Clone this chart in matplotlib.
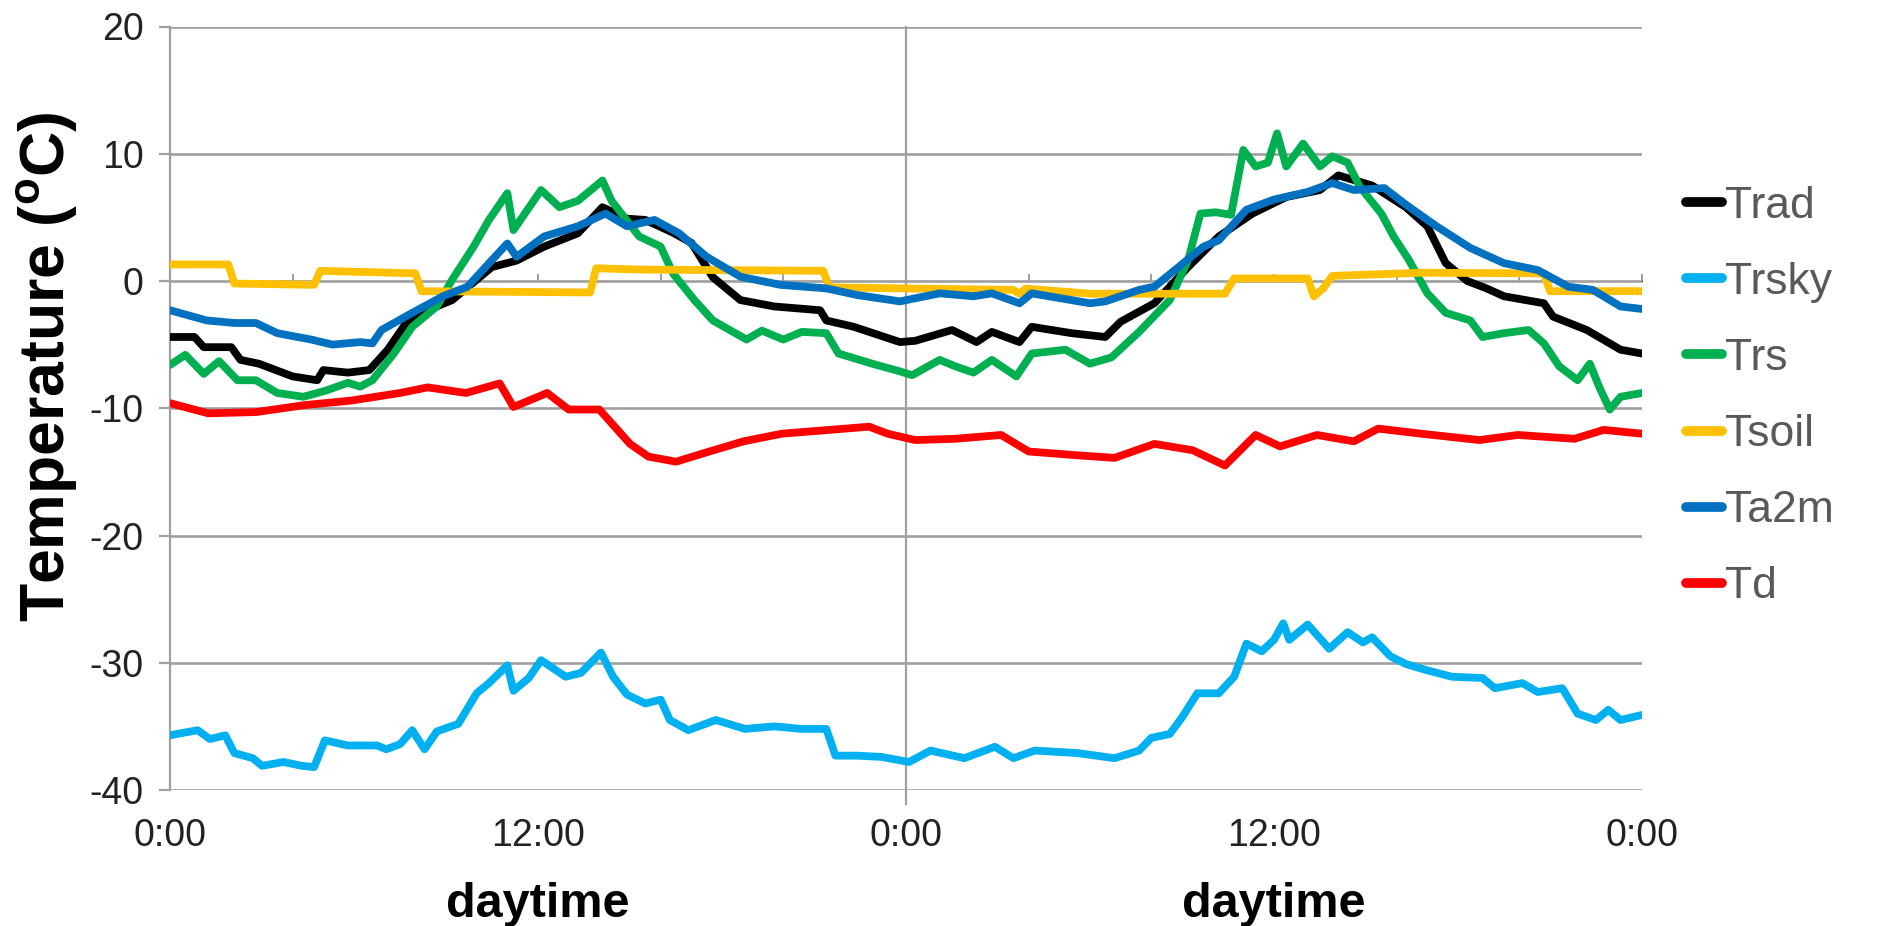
import matplotlib
matplotlib.use("Agg")
import matplotlib.pyplot as plt

plt.rcParams['font.family'] = ['Liberation Sans', 'DejaVu Sans']

# ---------------- data (hours since start, temperature in degC) ----------------
trad_h = [0, 0.8, 1.1, 2.0, 2.3, 2.9, 4.0, 4.8, 5.0, 5.8, 6.5, 7.1, 7.7, 8.4, 9.2, 10.0,
          10.5, 11.3, 12.2, 13.3, 14.1, 14.9, 15.5, 16.4, 17.0, 17.7, 18.6, 19.7, 21.2,
          21.4, 22.3, 23.8, 24.3, 25.5, 26.3, 26.8, 27.7, 28.1, 29.4, 30.5, 31.0, 32.1,
          33.2, 34.2, 35.3, 36.4, 37.5, 38.1, 39.2, 40.3, 41.0, 41.6, 42.3, 42.9, 43.5,
          44.8, 45.1, 46.2, 47.3, 48.0]
trad_v = [-4.4, -4.4, -5.2, -5.2, -6.2, -6.5, -7.5, -7.8, -7.0, -7.2, -7.0, -5.4, -3.3,
          -2.3, -1.5, 0.1, 1.1, 1.6, 2.7, 3.75, 5.8, 4.9, 4.8, 3.8, 3.0, 0.3, -1.5, -2.0,
          -2.3, -3.1, -3.6, -4.8, -4.7, -3.85, -4.8, -4.0, -4.8, -3.6, -4.1, -4.4, -3.2,
          -1.75, 1.1, 3.5, 5.3, 6.6, 7.15, 8.3, 7.5, 5.8, 4.3, 1.4, 0.0, -0.55, -1.2,
          -1.75, -2.8, -3.85, -5.4, -5.7]

trsky_h = [0, 0.9, 1.3, 1.8, 2.1, 2.7, 3.0, 3.7, 4.3, 4.7, 5.05, 5.8, 6.75, 7.05, 7.5,
           7.9, 8.3, 8.7, 9.4, 10.0, 10.4, 11.0, 11.2, 11.7, 12.1, 12.9, 13.4, 14.05,
           14.45, 14.9, 15.5, 16.0, 16.3, 16.9, 17.8, 18.75, 19.7, 20.6, 21.4, 21.7,
           22.4, 23.2, 24.1, 24.8, 25.9, 26.9, 27.5, 28.2, 29.6, 30.8, 31.6, 32.0, 32.6,
           33.0, 33.5, 34.2, 34.7, 35.1, 35.6, 36.0, 36.3, 36.5, 37.1, 37.8, 38.4, 38.9,
           39.2, 39.8, 40.3, 41.0, 41.8, 42.8, 43.2, 44.1, 44.6, 45.4, 45.9, 46.5, 46.9,
           47.3, 48.0]
trsky_v = [-35.7, -35.3, -36.0, -35.7, -37.1, -37.5, -38.1, -37.8, -38.1, -38.2, -36.1,
           -36.5, -36.5, -36.8, -36.4, -35.3, -36.8, -35.4, -34.8, -32.4, -31.6, -30.2,
           -32.2, -31.2, -29.8, -31.1, -30.8, -29.2, -31.1, -32.5, -33.2, -32.9, -34.5,
           -35.3, -34.5, -35.2, -35.0, -35.2, -35.2, -37.3, -37.3, -37.4, -37.8, -36.9,
           -37.5, -36.6, -37.5, -36.9, -37.1, -37.5, -36.9, -35.9, -35.6, -34.3, -32.4,
           -32.4, -31.1, -28.5, -29.1, -28.2, -26.9, -28.2, -27.0, -28.9, -27.6, -28.4,
           -28.0, -29.5, -30.1, -30.6, -31.1, -31.2, -32.0, -31.6, -32.3, -32.0, -34.0,
           -34.5, -33.7, -34.5, -34.1]

trs_h = [0, 0.5, 1.1, 1.6, 2.2, 2.8, 3.5, 4.35, 5.1, 5.8, 6.2, 6.6, 7.3, 7.9, 8.7, 9.2,
         9.9, 10.4, 11.0, 11.2, 11.5, 12.1, 12.7, 13.3, 14.1, 14.4, 15.3, 16.0, 16.4,
         17.1, 17.7, 18.8, 19.3, 20.0, 20.6, 21.4, 21.8, 22.9, 23.8, 24.2, 25.1, 25.6,
         26.2, 26.8, 27.6, 28.1, 29.2, 30.0, 30.7, 31.6, 32.6, 33.2, 33.6, 34.1, 34.6,
         35.0, 35.4, 35.8, 36.1, 36.4, 36.95, 37.5, 37.9, 38.4, 38.8, 39.5, 39.9, 40.4,
         41.0, 41.6, 42.4, 42.8, 43.5, 44.3, 44.8, 45.3, 45.9, 46.3, 46.6, 46.95, 47.3,
         48.0]
trs_v = [-6.6, -5.8, -7.3, -6.3, -7.8, -7.8, -8.8, -9.1, -8.6, -8.0, -8.3, -7.8, -5.7,
         -3.6, -2.0, 0.1, 2.7, 4.8, 6.9, 4.0, 5.05, 7.15, 5.8, 6.3, 7.9, 6.3, 3.5, 2.7,
         0.6, -1.5, -3.1, -4.6, -3.9, -4.6, -4.0, -4.1, -5.7, -6.5, -7.1, -7.4, -6.2,
         -6.7, -7.2, -6.2, -7.5, -5.7, -5.4, -6.5, -6.0, -4.0, -1.5, 1.65, 5.3, 5.4, 5.2,
         10.3, 9.0, 9.3, 11.6, 9.0, 10.8, 9.0, 9.8, 9.3, 7.4, 5.3, 3.5, 1.65, -0.97,
         -2.5, -3.1, -4.4, -4.1, -3.85, -4.9, -6.7, -7.8, -6.5, -8.3, -10.1, -9.1, -8.8]

tsoil_h = [0, 1.9, 2.1, 4.7, 4.9, 8.0, 8.2, 13.7, 13.9, 15.3, 21.3, 21.5, 27.5, 27.7,
           27.9, 30.0, 34.4, 34.7, 37.1, 37.3, 37.6, 37.9, 40.8, 44.8, 45.0, 48.0]
tsoil_v = [1.3, 1.3, -0.2, -0.3, 0.8, 0.6, -0.8, -0.9, 1.0, 0.9, 0.8, -0.5, -0.7, -1.0,
           -0.6, -1.0, -1.0, 0.2, 0.2, -1.2, -0.6, 0.4, 0.65, 0.6, -0.8, -0.8]

ta2m_h = [0, 1.2, 2.1, 2.8, 3.5, 4.6, 5.3, 6.2, 6.6, 6.9, 7.9, 8.9, 9.7, 10.5, 11.0,
          11.3, 12.2, 13.3, 14.2, 14.9, 15.8, 16.6, 17.5, 18.6, 19.9, 21.4, 22.4, 23.8,
          25.1, 26.2, 26.8, 27.7, 28.1, 30.0, 30.5, 31.6, 32.1, 32.9, 33.7, 34.2, 35.1,
          36.0, 37.1, 37.9, 38.6, 39.6, 40.3, 41.3, 42.4, 43.5, 44.6, 45.6, 46.4, 47.3,
          48.0]
ta2m_v = [-2.3, -3.1, -3.3, -3.3, -4.1, -4.6, -5.0, -4.8, -4.9, -3.85, -2.5, -1.2, -0.45,
          1.65, 2.95, 1.9, 3.5, 4.3, 5.3, 4.3, 4.8, 3.75, 1.9, 0.34, -0.3, -0.58, -1.1,
          -1.6, -0.97, -1.2, -0.97, -1.75, -0.97, -1.75, -1.6, -0.7, -0.45, 1.12, 2.7,
          3.2, 5.6, 6.4, 7.0, 7.7, 7.15, 7.3, 6.0, 4.3, 2.6, 1.4, 0.86, -0.45, -0.7,
          -2.0, -2.2]

td_h = [0, 1.25, 2.8, 4.4, 5.9, 7.5, 8.4, 9.65, 10.75, 11.2, 12.3, 13.0, 14.0, 15.0,
        15.6, 16.5, 17.45, 18.7, 19.95, 21.5, 22.8, 23.4, 24.3, 25.6, 27.1, 28.0, 29.6,
        30.8, 32.1, 33.35, 34.4, 35.4, 36.2, 37.4, 38.6, 39.4, 40.8, 42.7, 43.95, 45.8,
        46.75, 48.0]
td_v = [-9.6, -10.4, -10.3, -9.75, -9.4, -8.8, -8.36, -8.8, -8.05, -9.9, -8.8, -10.1,
        -10.1, -12.8, -13.8, -14.2, -13.5, -12.6, -12.0, -11.7, -11.45, -12.0, -12.5,
        -12.4, -12.1, -13.4, -13.7, -13.9, -12.8, -13.3, -14.5, -12.1, -13.0, -12.1,
        -12.6, -11.6, -12.0, -12.5, -12.1, -12.4, -11.7, -12.0]

series_names = ["Trad", "Trsky", "Trs", "Tsoil", "Ta2m", "Td"]
series_colors = ["#000000", "#00B0F0", "#00B050", "#FFC000", "#0070C0", "#FF0000"]

xtick_pos = [0, 12, 24, 36, 48]
xtick_labels = ["0:00", "12:00", "0:00", "12:00", "0:00"]
ytick_pos = [-40, -30, -20, -10, 0, 10, 20]

# ---------------- figure ----------------
fig = plt.figure(figsize=(18.9, 9.26), dpi=100)
ax = fig.add_axes([170 / 1890, 1 - 790 / 926, (1642 - 170) / 1890, (790 - 26.5) / 926])

grid_c = "#A0A0A0"
for yv in ytick_pos:
    ax.axhline(yv, color=grid_c, lw=1.9, zorder=1)
ax.axvline(24, ymin=-0.018, ymax=1, color=grid_c, lw=1.6, zorder=1, clip_on=False)

data = [(trad_h, trad_v), (trsky_h, trsky_v), (trs_h, trs_v),
        (tsoil_h, tsoil_v), (ta2m_h, ta2m_v), (td_h, td_v)]
for (hh, vv), name, col in zip(data, series_names, series_colors):
    ax.plot(hh, vv, color=col, lw=5.6, label=name, solid_joinstyle="round",
            solid_capstyle="round", zorder=3)

ax.set_xlim(0, 48)
ax.set_ylim(-40, 20)

for s in ["top", "right", "bottom"]:
    ax.spines[s].set_visible(False)
ax.spines["left"].set_color(grid_c)
ax.spines["left"].set_linewidth(1.6)

ax.set_yticks(ytick_pos)
ax.set_yticklabels([str(v) for v in ytick_pos])
ax.tick_params(axis="y", direction="out", length=8, width=1.6, color=grid_c,
               labelsize=27, labelcolor="#222222", pad=11)
ax.set_xticks(xtick_pos)
ax.set_xticklabels(xtick_labels)
ax.tick_params(axis="x", length=0, labelsize=27, labelcolor="#222222", pad=20)

# horizontal axis line crossing at 0 with small tick marks every 4 hours
sec = ax.secondary_xaxis(40 / 60)
sec.set_xticks(list(range(0, 49, 4)))
sec.set_xticklabels([])
sec.tick_params(axis="x", direction="out", length=5, width=1.4, color=grid_c)
sec.spines["bottom"].set_color(grid_c)
sec.spines["bottom"].set_linewidth(1.9)

ax.set_ylabel("Temperature ($\\mathregular{^{o}}$C)", fontsize=45, fontweight="bold")
ax.yaxis.set_label_coords(-0.061, 0.555)

for xd in [12, 36]:
    ax.text(xd, -49.0, "daytime", fontsize=35, fontweight="bold", ha="center",
            va="center", color="#000000")

leg = ax.legend(loc="upper left", bbox_to_anchor=(1668 / 1890, 1 - 168 / 926),
                bbox_transform=fig.transFigure, frameon=False, fontsize=32,
                handlelength=0.82, handletextpad=0.06, labelspacing=0.79,
                borderaxespad=0)
for t in leg.get_texts():
    t.set_color("#595959")
for lh in leg.get_lines():
    lh.set_linewidth(7)
    lh.set_solid_capstyle("round")

fig.savefig("out.png", dpi=100)
